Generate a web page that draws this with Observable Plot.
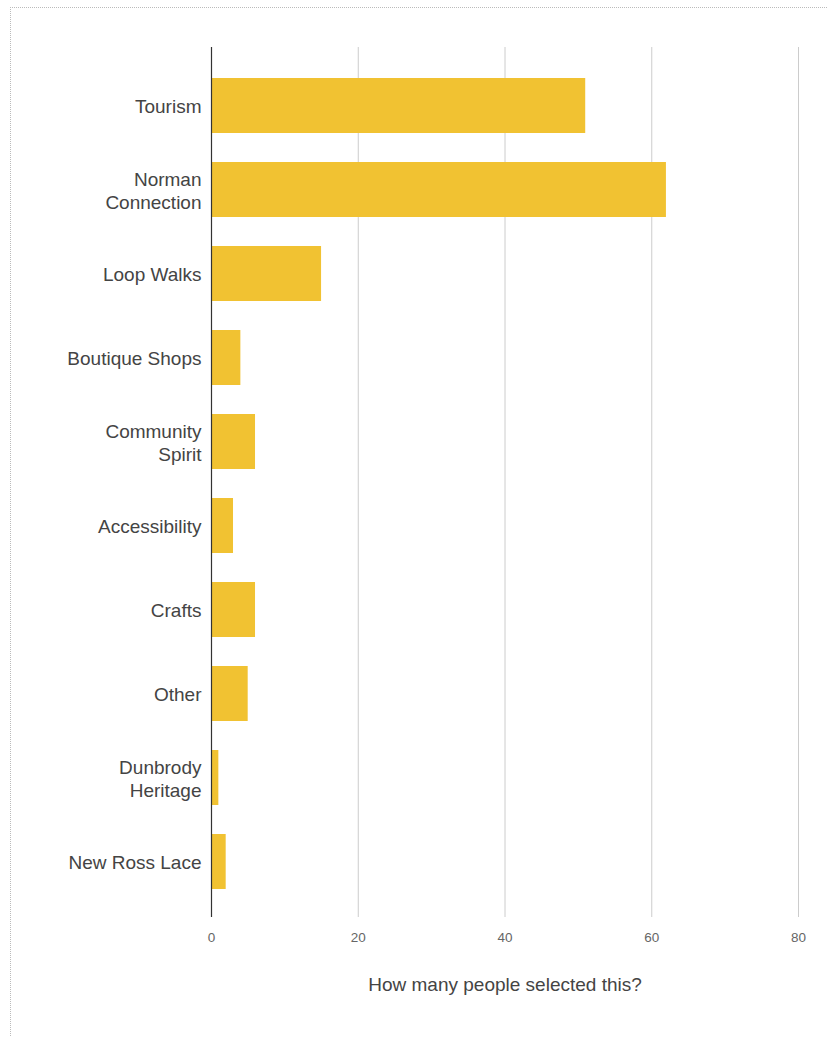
<!DOCTYPE html>
<html>
<head>
<meta charset="utf-8">
<script src="https://cdn.jsdelivr.net/npm/d3@7"></script>
<script src="https://cdn.jsdelivr.net/npm/@observablehq/plot@0.6"></script>
<style>
  html, body { margin: 0; padding: 0; background: #fff; overflow: hidden; }
  #wrap { position: relative; width: 828px; height: 1037px; }
  #border { position: absolute; left: 10px; top: 7px; width: 900px; height: 1100px;
            border-left: 1px dotted #bbb; border-top: 1px dotted #bbb; pointer-events: none; }
  #chart { position: absolute; left: 0; top: 0; }
</style>
</head>
<body>
<div id="wrap"><div id="chart"></div><div id="border"></div></div>
<script>
const categories = ["Tourism", "Norman Connection", "Loop Walks", "Boutique Shops", "Community Spirit",
                    "Accessibility", "Crafts", "Other", "Dunbrody Heritage", "New Ross Lace"];
const labels = ["Tourism", "Norman\nConnection", "Loop Walks", "Boutique Shops", "Community\nSpirit",
                "Accessibility", "Crafts", "Other", "Dunbrody\nHeritage", "New Ross Lace"];
const counts = [51, 62, 15, 4, 6, 3, 6, 5, 1, 2];
const xTicks = [0, 20, 40, 60, 80];
const xTitle = "How many people selected this?";

const data = categories.map((c, i) => ({category: c, label: labels[i], count: counts[i]}));
const font = "'Liberation Sans', Arial, sans-serif";

const chart = Plot.plot({
  width: 828,
  height: 1037,
  marginLeft: 211,
  marginRight: 30,
  marginTop: 47,
  marginBottom: 120,
  style: {fontFamily: font, background: "transparent"},
  x: {domain: [0, 80], ticks: xTicks},
  y: {domain: categories, paddingInner: 0.35, paddingOuter: 0.175, insetTop: 16, insetBottom: 14, axis: null},
  marks: [
    Plot.ruleX(xTicks.filter(d => d > 0), {stroke: "#cccccc", strokeWidth: 1}),
    Plot.barX(data, {x: "count", y: "category", fill: "#f1c232"}),
    Plot.ruleX([0], {stroke: "#333333", strokeWidth: 1.2}),
    Plot.axisX({ticks: xTicks, tickSize: 0, tickPadding: 15, fontSize: 13.5, color: "#666", label: null}),
    Plot.text(data, {x: 0, y: "category", text: "label", textAnchor: "end", dx: -10,
                     fontSize: 19, fill: "#444", lineHeight: 1.2}),
    Plot.text([xTitle], {frameAnchor: "bottom", dy: 73, fontSize: 19, fill: "#444"})
  ]
});
document.getElementById("chart").appendChild(chart);
</script>
</body>
</html>
